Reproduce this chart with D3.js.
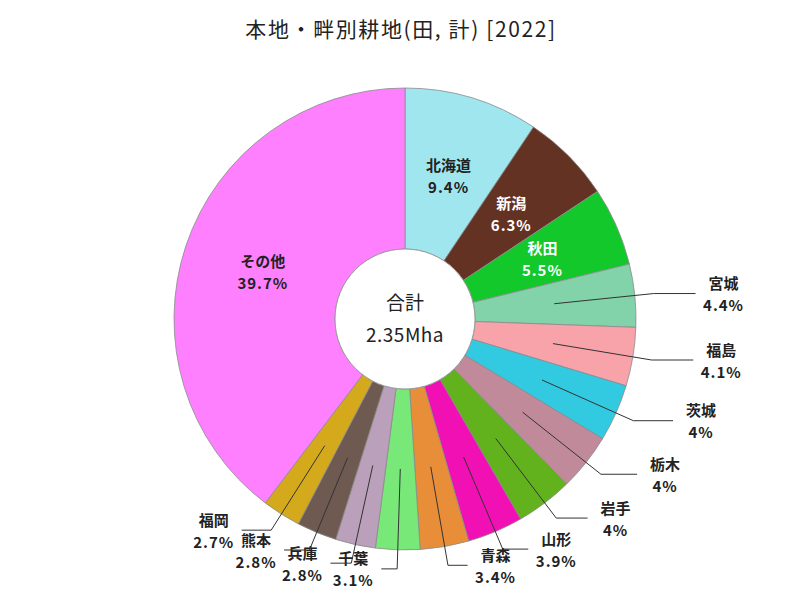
<!DOCTYPE html>
<html>
<head>
<meta charset="utf-8">
<script src="https://cdn.jsdelivr.net/npm/d3@7"></script>
<style>
  body { margin: 0; background: #fff; }
  text { font-family: "Noto Sans CJK JP", "Noto Sans", sans-serif; }
</style>
</head>
<body>
<div id="chart"></div>
<script>
// data (share of total, %)
const prefectures = ["北海道", "新潟", "秋田", "宮城", "福島", "茨城", "栃木", "岩手", "山形", "青森", "千葉", "兵庫", "熊本", "福岡", "その他"];
const shares = [9.4, 6.3, 5.5, 4.4, 4.1, 4, 4, 4, 3.9, 3.4, 3.1, 2.8, 2.8, 2.7, 39.7];
const totalLabel = ["合計", "2.35Mha"];
const title = "本地・畔別耕地(田, 計) [2022]";

const palette = ["#a0e6ee", "#643222", "#12c82a", "#82d2aa", "#f8a2aa", "#32cae0", "#c08a9a",
                 "#62b21e", "#f010b4", "#e88e38", "#78e878", "#baa0ba", "#6e5a50", "#d4aa1c", "#ff80ff"];

const w = 800, h = 600;
const cx = 405, cy = 319;
const rInner = 70, rOuter = 231;

const svg = d3.select("#chart").append("svg")
  .attr("width", w)
  .attr("height", h)
  .style("background", "#fff");

svg.append("text")
  .attr("x", 401)
  .attr("y", 28)
  .attr("text-anchor", "middle")
  .attr("dominant-baseline", "central")
  .style("font-size", "21px")
  .style("letter-spacing", "1.6px")
  .style("fill", "#222")
  .text(title);

const g = svg.append("g").attr("transform", `translate(${cx}, ${cy})`);

const pie = d3.pie().sort(null).value(d => d);
const arcs = pie(shares);

const arc = d3.arc().innerRadius(rInner).outerRadius(rOuter);
const midArc = d3.arc().innerRadius(150).outerRadius(150);

// slices
g.selectAll("path.slice")
  .data(arcs)
  .enter()
  .append("path")
    .attr("class", "slice")
    .attr("d", arc)
    .attr("fill", (d, i) => palette[i])
    .attr("stroke", "#8a8a8a")
    .attr("stroke-width", 0.8);

// inner circle outline
g.append("circle")
  .attr("r", rInner)
  .attr("fill", "#fff")
  .attr("stroke", "#999")
  .attr("stroke-width", 1);

// centre text
g.append("text")
  .attr("y", -18)
  .attr("text-anchor", "middle")
  .attr("dominant-baseline", "central")
  .style("font-size", "19px")
  .style("fill", "#222")
  .text(totalLabel[0]);
g.append("text")
  .attr("y", 14)
  .attr("text-anchor", "middle")
  .attr("dominant-baseline", "central")
  .style("font-size", "19px")
  .style("letter-spacing", "0.5px")
  .style("fill", "#222")
  .text(totalLabel[1]);

const mid = d => (d.startAngle + d.endAngle) / 2;
const inside = arcs.filter(d => d.value >= 5);
const outside = arcs.filter(d => d.value < 5);

// labels inside the ring
inside.forEach(d => {
  const [x, y] = midArc.centroid(d);
  const col = d3.hsl(palette[d.index]).l < 0.5 ? "#fff" : "#222";
  [prefectures[d.index], d.value + "%"].forEach((t, k) => {
    g.append("text")
      .attr("x", x)
      .attr("y", y + (k === 0 ? -11 : 11))
      .attr("text-anchor", "middle")
      .attr("dominant-baseline", "central")
      .style("font-size", "15px")
      .style("font-weight", "bold")
      .style("letter-spacing", k === 1 ? "1px" : "0px")
      .style("fill", col)
      .text(t);
  });
});

// labels outside with leader lines
outside.forEach(d => {
  const a = mid(d);
  const s = Math.sin(a), c = Math.cos(a);
  const p0 = midArc.centroid(d);
  const p1 = [250 * s, -250 * c];
  const dir = s >= 0 ? 1 : -1;
  const p2 = [p1[0] + dir * (15 + 27 * Math.abs(s)), p1[1]];
  g.append("polyline")
    .attr("points", [p0, p1, p2].map(p => p.join(",")).join(" "))
    .attr("fill", "none")
    .attr("stroke", "#333")
    .attr("stroke-width", 1);
  const lx = p2[0] + dir * 28;
  [prefectures[d.index], d.value + "%"].forEach((t, k) => {
    g.append("text")
      .attr("x", lx)
      .attr("y", p2[1] + (k === 0 ? -11 : 11))
      .attr("text-anchor", "middle")
      .attr("dominant-baseline", "central")
      .style("font-size", "15px")
      .style("font-weight", "bold")
      .style("letter-spacing", k === 1 ? "1px" : "0px")
      .style("fill", "#222")
      .text(t);
  });
});
</script>
</body>
</html>
